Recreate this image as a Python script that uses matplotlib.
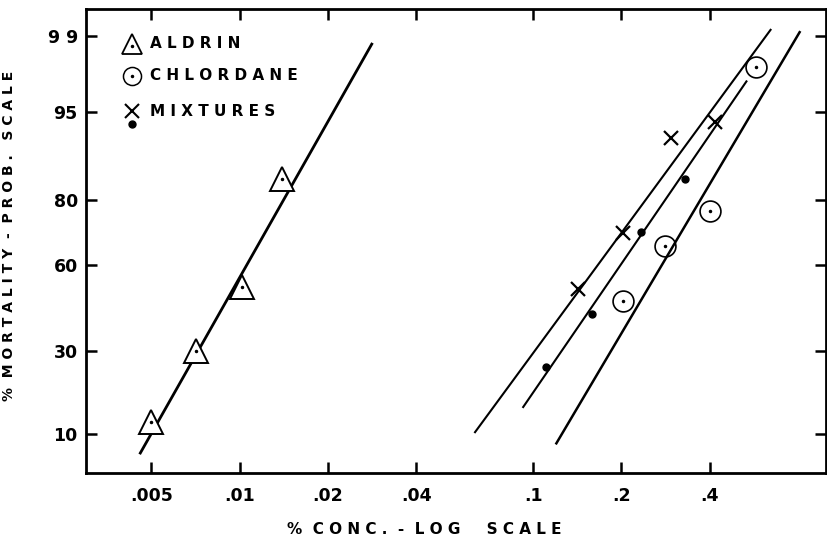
import matplotlib
matplotlib.use("Agg")
import matplotlib.pyplot as plt
import numpy as np
from statistics import NormalDist
from matplotlib.ticker import NullLocator

# Aldrin
aldrin_conc = [0.0050, 0.0071, 0.0102, 0.0140]
aldrin_mort = [12, 30, 52, 85]
aldrin_line_conc = [0.00459, 0.0282]
aldrin_line_mort = [7.3, 98.8]

# Chlordane
chlor_conc = [0.203, 0.282, 0.402, 0.573]
chlor_mort = [47, 66.5, 77, 98]
chlor_line_conc = [0.120, 0.809]
chlor_line_mort = [8.6, 99.1]

# Mixtures (crosses and dots)
mixx_conc = [0.142, 0.203, 0.294, 0.415]
mixx_mort = [51.5, 70.5, 92, 94]
mixx_line_conc = [0.0634, 0.644]
mixx_line_mort = [10.3, 99.15]

mixd_conc = [0.111, 0.159, 0.234, 0.328]
mixd_mort = [25, 42.5, 71, 85]
mixd_line_conc = [0.0925, 0.533]
mixd_line_mort = [15, 97.25]

x_ticks = [0.005, 0.01, 0.02, 0.04, 0.1, 0.2, 0.4]
x_labels = [".005", ".01", ".02", ".04", ".1", ".2", ".4"]
y_ticks = [10, 30, 60, 80, 95, 99]
y_labels = ["10", "30", "60", "80", "95", "9 9"]

nd = NormalDist()


def probit(p):
    p = np.clip(np.asarray(p, dtype=float) / 100.0, 1e-6, 1 - 1e-6)
    return np.vectorize(nd.inv_cdf, otypes=[float])(p)


def inv_probit(z):
    z = np.asarray(z, dtype=float)
    return 100.0 * np.vectorize(nd.cdf, otypes=[float])(z)


fig = plt.figure(figsize=(8.28, 5.36), dpi=100)
ax = fig.add_axes([0.104, 0.1175, 0.8936, 0.8657])
ax.set_xscale("log")
ax.set_yscale("function", functions=(probit, inv_probit))

# fitted lines
ax.plot(aldrin_line_conc, aldrin_line_mort, color="black", lw=2.0)
ax.plot(mixx_line_conc, mixx_line_mort, color="black", lw=1.5)
ax.plot(mixd_line_conc, mixd_line_mort, color="black", lw=1.5)
ax.plot(chlor_line_conc, chlor_line_mort, color="black", lw=1.8)

# points
ax.plot(aldrin_conc, aldrin_mort, ls="none", marker="^", ms=17, mfc="white",
        mec="black", mew=1.4)
ax.plot(aldrin_conc, aldrin_mort, ls="none", marker=".", ms=3, color="black")
ax.plot(chlor_conc, chlor_mort, ls="none", marker="o", ms=15, mfc="none",
        mec="black", mew=1.2)
ax.plot(chlor_conc, chlor_mort, ls="none", marker=".", ms=3, color="black")
ax.plot(mixx_conc, mixx_mort, ls="none", marker="x", ms=10, color="black", mew=1.6)
ax.plot(mixd_conc, mixd_mort, ls="none", marker="o", ms=5, color="black")

ax.set_xlim(0.003, 0.995)
ax.set_ylim(5.1, 99.5)

ax.set_xticks(x_ticks)
ax.set_xticklabels(x_labels)
ax.xaxis.set_minor_locator(NullLocator())
ax.set_yticks(y_ticks)
ax.set_yticklabels(y_labels)
ax.yaxis.set_minor_locator(NullLocator())

ax.tick_params(direction="in", length=8, width=1.8, top=True, right=True,
               labelsize=12.5)
ax.tick_params(axis="x", pad=10)
ax.tick_params(axis="y", pad=6)
for lab in ax.get_xticklabels() + ax.get_yticklabels():
    lab.set_fontweight("bold")
for s in ax.spines.values():
    s.set_linewidth(2)

ax.set_xlabel("%  C O N C .  -  L O G     S C A L E", fontsize=11,
              fontweight="bold")
ax.xaxis.set_label_coords(0.457, -0.105)
ax.set_ylabel("%  M O R T A L I T Y  -  P R O B .   S C A L E", fontsize=10,
              fontweight="bold")
ax.yaxis.set_label_coords(-0.095, 0.51)

# legend drawn by hand
ax.plot([0.062], [0.925], transform=ax.transAxes, marker="^", ms=15,
        mfc="white", mec="black", mew=1.3, ls="none")
ax.plot([0.062], [0.92], transform=ax.transAxes, marker=".", ms=3,
        color="black", ls="none")
ax.text(0.087, 0.925, "A L D R I N", transform=ax.transAxes, fontsize=11,
        fontweight="bold", va="center")
ax.plot([0.062], [0.856], transform=ax.transAxes, marker="o", ms=13,
        mfc="none", mec="black", mew=1.1, ls="none")
ax.plot([0.062], [0.856], transform=ax.transAxes, marker=".", ms=3,
        color="black", ls="none")
ax.text(0.087, 0.856, "C H L O R D A N E", transform=ax.transAxes, fontsize=11,
        fontweight="bold", va="center")
ax.plot([0.0615], [0.78], transform=ax.transAxes, marker="x", ms=10,
        color="black", mew=1.5, ls="none")
ax.plot([0.0625], [0.752], transform=ax.transAxes, marker="o", ms=5,
        color="black", ls="none")
ax.text(0.087, 0.78, "M I X T U R E S", transform=ax.transAxes, fontsize=11,
        fontweight="bold", va="center")

fig.savefig("out.png", dpi=100)
